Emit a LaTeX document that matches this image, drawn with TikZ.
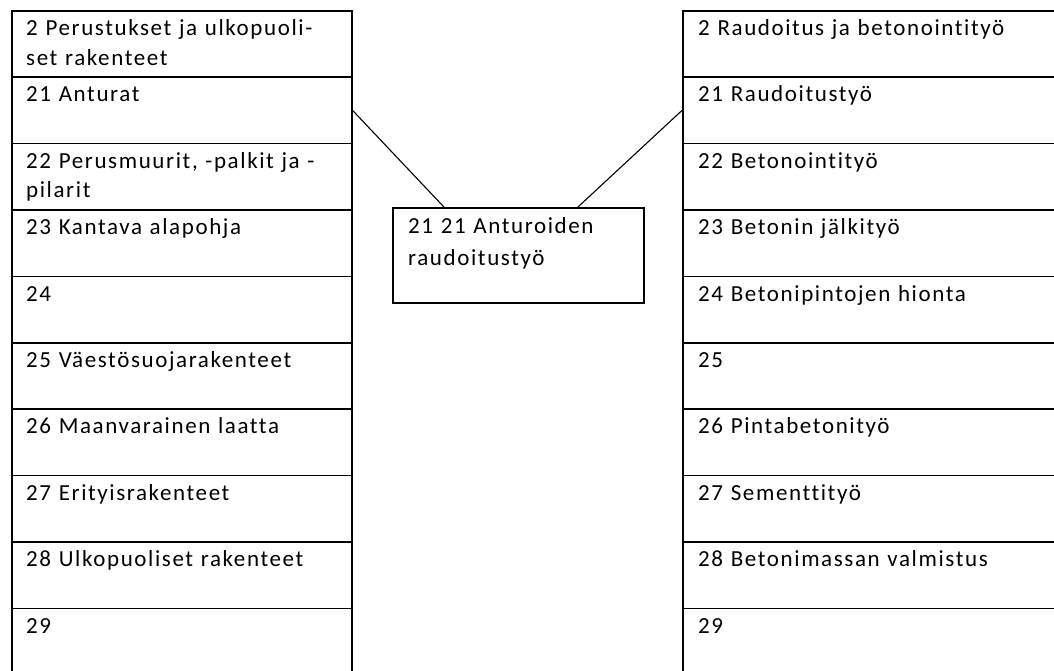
\documentclass[tikz,border=0pt]{standalone}
\usepackage{fontspec}
\setmainfont{Carlito}[LetterSpace=7,Ligatures=NoCommon]
\usetikzlibrary{positioning}
\tikzset{
    cell/.style={
           rectangle,
           draw=black,
           line width=1.6pt,
           minimum width=340pt,
           minimum height=66.4pt,
           inner sep=0pt,
           anchor=north west,
           },
    celltext/.style={
           anchor=base west,
           inner sep=0pt,
           text width=330pt,
           align=left,
           font=\fontsize{23}{29.5}\selectfont,
           },
}

\begin{document}
\begin{tikzpicture}[
  x=1pt,y=-1pt,
  link/.style={line width=1.1pt}]
\useasboundingbox (0,0) rectangle (1054,670);
\clip (0,0) rectangle (1054,670);
\foreach \txt [count=\i from 0] in {{2 Perustukset ja ulkopuoli-\\set rakenteet},
    {21 Anturat},{22 Perusmuurit, -palkit ja -\\pilarit},{23 Kantava alapohja},
    {24},{25 Väestösuojarakenteet},{26 Maanvarainen laatta},
    {27 Erityisrakenteet},{28 Ulkopuoliset rakenteet},{29}}{
  \node[cell] (left\i) at (11,10+66.4*\i) {};
  \node[celltext] (lefttext\i) at ([shift={(15,25.5)}]left\i.north west) {\txt};
}
\foreach \txt [count=\i from 0] in {{2 Raudoitus ja betonointityö},
    {21 Raudoitustyö},{22 Betonointityö},{23 Betonin jälkityö},
    {24 Betonipintojen hionta},{25},{26 Pintabetonityö},
    {27 Sementtityö},{28 Betonimassan valmistus},{29}}{
  \node[cell,minimum width=380pt] (right\i) at (682,10+66.4*\i) {};
  \node[celltext] (righttext\i) at ([shift={(16,25.5)}]right\i.north west) {\txt};
}
\node[cell,minimum width=251pt,minimum height=95pt] (task) at (392,207) {};
\node[celltext,text width=230pt,font=\fontsize{23}{32}\selectfont] (tasktext)
  at ([shift={(16,26)}]task.north west) {21 21 Anturoiden\\raudoitustyö};

\draw[link] (left1.east) -- (task.147);
\draw[link] (right1.west) -- (task.39);
\end{tikzpicture}
\end{document}
